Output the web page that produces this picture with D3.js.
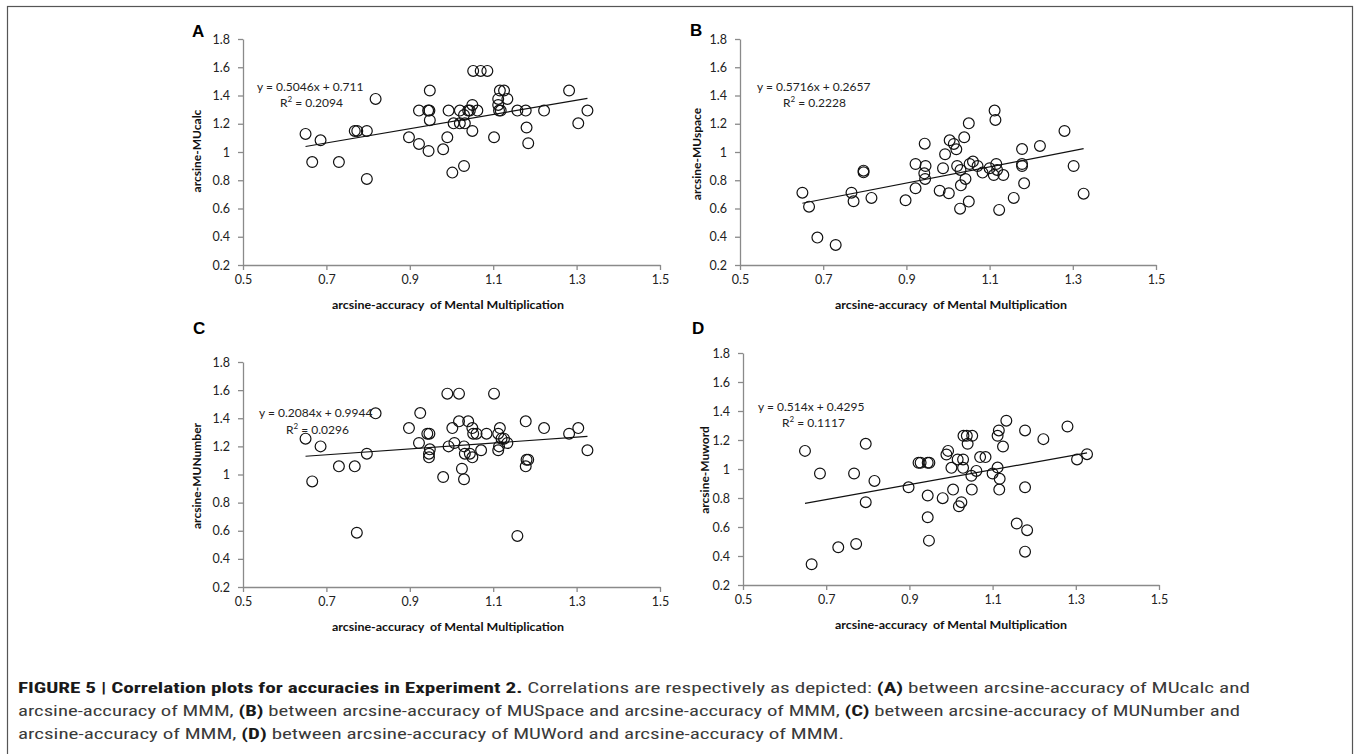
<!DOCTYPE html>
<html><head><meta charset="utf-8">
<script src="https://cdn.jsdelivr.net/npm/d3@7"></script>
<style>
html,body{margin:0;padding:0;background:#fff;}
svg{display:block;}
</style></head>
<body>
<svg id="chart" width="1357" height="754"></svg>
<script>
// ---------- DATA ----------
const xTicks = [0.5, 0.7, 0.9, 1.1, 1.3, 1.5];
const yTicks = [0.2, 0.4, 0.6, 0.8, 1.0, 1.2, 1.4, 1.6, 1.8];

const xA = [0.65,0.666,0.686,0.730,0.768,0.774,0.797,0.797,0.818,0.898,0.922,0.922,0.944,0.947,0.948,0.948,0.945,0.98,0.99,0.993,1.002,1.005,1.02,1.02,1.032,1.03,1.03,1.04,1.044,1.05,1.05,1.052,1.062,1.07,1.086,1.102,1.112,1.112,1.114,1.116,1.126,1.134,1.118,1.158,1.178,1.18,1.184,1.222,1.282,1.304,1.326];
const yA = [1.128,0.929,1.083,0.929,1.149,1.149,1.149,0.809,1.376,1.104,1.057,1.293,1.293,1.293,1.435,1.225,1.007,1.019,1.104,1.293,0.854,1.203,1.203,1.293,1.203,0.901,1.262,1.293,1.293,1.333,1.149,1.574,1.293,1.574,1.574,1.104,1.333,1.376,1.293,1.435,1.435,1.376,1.293,1.293,1.293,1.173,1.062,1.293,1.435,1.203,1.293];

const xB = [0.65,0.666,0.686,0.73,0.768,0.773,0.797,0.797,0.816,0.898,0.922,0.922,0.944,0.946,0.943,0.945,0.98,0.988,0.993,1.002,1.004,1.014,1.02,1.022,1.03,1.029,1.031,1.039,1.042,1.05,1.05,1.052,1.06,1.071,1.083,1.1,1.112,1.114,1.116,1.118,1.11,1.123,1.133,1.158,1.178,1.178,1.178,1.183,1.221,1.28,1.302,1.326];
const yB = [0.712,0.613,0.394,0.342,0.712,0.651,0.868,0.856,0.675,0.658,0.743,0.915,1.059,0.901,0.849,0.809,0.726,0.885,0.984,0.708,1.083,1.057,1.019,0.901,0.873,0.599,0.764,1.104,0.809,1.203,0.649,0.915,0.932,0.901,0.854,0.885,1.293,1.227,0.915,0.873,0.837,0.59,0.837,0.675,1.021,0.915,0.901,0.778,1.043,1.149,0.901,0.705];

const xC = [0.65,0.666,0.686,0.73,0.768,0.773,0.797,0.818,0.898,0.922,0.925,0.942,0.947,0.948,0.946,0.946,0.98,0.99,0.993,1.002,1.007,1.018,1.018,1.025,1.03,1.03,1.032,1.04,1.044,1.05,1.05,1.052,1.06,1.071,1.084,1.102,1.112,1.116,1.114,1.112,1.12,1.126,1.134,1.158,1.178,1.18,1.178,1.184,1.222,1.282,1.304,1.326];
const yC = [1.255,0.951,1.2,1.058,1.058,0.586,1.148,1.435,1.33,1.224,1.437,1.29,1.29,1.179,1.148,1.122,0.982,1.575,1.2,1.33,1.224,1.575,1.378,1.041,0.966,1.2,1.148,1.378,1.148,1.33,1.122,1.29,1.29,1.172,1.29,1.575,1.29,1.33,1.2,1.172,1.255,1.255,1.224,0.563,1.378,1.105,1.058,1.105,1.33,1.29,1.33,1.172];

const xD = [0.649,0.665,0.685,0.729,0.767,0.772,0.795,0.795,0.816,0.898,0.922,0.927,0.944,0.948,0.944,0.944,0.947,0.98,0.989,0.993,1.001,1.005,1.016,1.019,1.025,1.029,1.029,1.03,1.038,1.051,1.04,1.049,1.05,1.061,1.07,1.083,1.1,1.112,1.112,1.115,1.117,1.116,1.125,1.133,1.158,1.178,1.178,1.183,1.178,1.222,1.28,1.303,1.327];
const yD = [1.125,0.343,0.969,0.46,0.969,0.483,1.174,0.771,0.918,0.874,1.043,1.043,1.043,1.043,0.817,0.667,0.506,0.799,1.1,1.125,1.008,0.858,1.066,0.743,0.771,1.066,1.008,1.229,1.229,1.229,1.174,0.953,0.858,0.987,1.082,1.082,0.969,1.01,1.229,1.266,0.932,0.858,1.155,1.333,0.624,1.266,0.874,0.578,0.43,1.206,1.293,1.066,1.102];

const letters = ["A", "B", "C", "D"];
const yTitles = ["arcsine-MUcalc", "arcsine-MUspace", "arcsine-MUNumber", "arcsine-Muword"];
const xTitle = "arcsine-accuracy  of Mental Multiplication";
const slopes = [0.5046, 0.5716, 0.2084, 0.514];
const intercepts = [0.711, 0.2657, 0.9944, 0.4295];
const eqTexts = ["y = 0.5046x + 0.711", "y = 0.5716x + 0.2657", "y = 0.2084x + 0.9944", "y = 0.514x + 0.4295"];
const r2Texts = ["0.2094", "0.2228", "0.0296", "0.1117"];

// ---------- LAYOUT ----------
const panels = [
  {x0:243, x1:660, yTop:39,  yBot:265, letterX:192, letterY:37,  titleX:197, titleY:151, xtX:448, eqX:257, eqY:91,  rX:280, rY:107},
  {x0:740, x1:1156,yTop:39,  yBot:265, letterX:690, letterY:36,  titleX:697, titleY:154, xtX:951, eqX:757, eqY:91,  rX:783, rY:107},
  {x0:243, x1:660, yTop:362, yBot:587, letterX:193, letterY:334, titleX:197, titleY:476, xtX:448, eqX:259, eqY:417, rX:286, rY:434},
  {x0:743, x1:1159,yTop:353, yBot:585, letterX:692, letterY:334, titleX:705, titleY:470, xtX:951, eqX:758, eqY:411, rX:782, rY:427}
];
const xs = [xA, xB, xC, xD];
const ys = [yA, yB, yC, yD];

const svg = d3.select("#chart");
// border
svg.append("rect").attr("x", 7.5).attr("y", 6.5).attr("width", 1345).attr("height", 760)
  .attr("fill", "none").attr("stroke", "#555").attr("stroke-width", 1.2);

const tickFont = "Lato, 'Open Sans', sans-serif";
const axisColor = "#8a8a8a";

panels.forEach((p, i) => {
  const x = d3.scaleLinear().domain([0.5, 1.5]).range([p.x0, p.x1]);
  const y = d3.scaleLinear().domain([0.2, 1.8]).range([p.yBot, p.yTop]);
  const g = svg.append("g");

  const xAxis = g.append("g").attr("transform", `translate(0,${p.yBot})`)
    .call(d3.axisBottom(x).tickValues(xTicks).tickSize(5).tickSizeOuter(0).tickFormat(d3.format(".1f")));
  const yAxis = g.append("g").attr("transform", `translate(${p.x0},0)`)
    .call(d3.axisLeft(y).tickValues(yTicks).tickSize(5).tickSizeOuter(0).tickFormat(d => d === 1 ? "1" : d.toFixed(1)));
  [xAxis, yAxis].forEach(a => {
    a.select(".domain").attr("stroke", axisColor).attr("stroke-width", 1.3);
    a.selectAll(".tick line").attr("stroke", axisColor).attr("stroke-width", 1.3);
    a.selectAll(".tick text").attr("fill", "#222").style("font-family", tickFont).style("font-size", "12.5px");
  });
  xAxis.selectAll(".tick text").attr("dy", "1.05em").attr("y", 6);
  yAxis.selectAll(".tick text").attr("x", -13);

  // regression line
  const xmin = d3.min(xs[i]), xmax = d3.max(xs[i]);
  g.append("line")
    .attr("x1", x(xmin)).attr("y1", y(slopes[i] * xmin + intercepts[i]))
    .attr("x2", x(xmax)).attr("y2", y(slopes[i] * xmax + intercepts[i]))
    .attr("stroke", "#111").attr("stroke-width", 1.2);

  // points
  g.selectAll("circle").data(xs[i].map((v, k) => [v, ys[i][k]])).join("circle")
    .attr("cx", d => x(d[0])).attr("cy", d => y(d[1])).attr("r", 5.4)
    .attr("fill", "none").attr("stroke", "#111").attr("stroke-width", 1.2);

  // equation texts
  g.append("text").attr("x", p.eqX).attr("y", p.eqY).text(eqTexts[i])
    .style("font-family", tickFont).style("font-size", "12px").attr("fill", "#222");
  const rt = g.append("text").attr("x", p.rX).attr("y", p.rY)
    .style("font-family", tickFont).style("font-size", "12px").attr("fill", "#222");
  rt.append("tspan").text("R");
  rt.append("tspan").text("2").attr("dy", -5).style("font-size", "8px");
  rt.append("tspan").text(" = " + r2Texts[i]).attr("dy", 5);

  // letter
  g.append("text").attr("x", p.letterX).attr("y", p.letterY).text(letters[i])
    .style("font-family", "'Liberation Sans', Arial, sans-serif").style("font-weight", "bold").style("font-size", "17px");

  // titles
  g.append("text").attr("transform", `translate(${p.titleX + 4},${p.titleY}) rotate(-90)`)
    .attr("text-anchor", "middle").text(yTitles[i])
    .style("font-family", tickFont).style("font-weight", "bold").style("font-size", "12px").attr("fill", "#111");
  g.append("text").attr("x", p.xtX).attr("y", p.yBot + 44).attr("text-anchor", "middle")
    .text(xTitle).attr("textLength", 232).attr("lengthAdjust", "spacingAndGlyphs")
    .style("font-family", tickFont).style("font-weight", "bold").style("font-size", "12px").attr("fill", "#111")
    .style("white-space", "pre");
});

// ---------- CAPTION ----------
const capFont = "'Liberation Sans Narrow', 'Roboto Condensed', 'Liberation Sans', Arial, sans-serif";
const capLines = [
  {y: 693, w: 1232, parts: [["FIGURE 5 | Correlation plots for accuracies in Experiment 2.", true], [" Correlations are respectively as depicted: ", false], ["(A)", true], [" between arcsine-accuracy of MUcalc and", false]]},
  {y: 716, w: 1222, parts: [["arcsine-accuracy of MMM, ", false], ["(B)", true], [" between arcsine-accuracy of MUSpace and arcsine-accuracy of MMM, ", false], ["(C)", true], [" between arcsine-accuracy of MUNumber and", false]]},
  {y: 739, w: 826, parts: [["arcsine-accuracy of MMM, ", false], ["(D)", true], [" between arcsine-accuracy of MUWord and arcsine-accuracy of MMM.", false]]}
];
capLines.forEach(l => {
  const t = svg.append("text").attr("x", 18).attr("y", l.y)
    .attr("textLength", l.w).attr("lengthAdjust", "spacingAndGlyphs")
    .style("font-family", capFont).style("font-size", "15.5px").style("white-space", "pre");
  l.parts.forEach(pt => t.append("tspan").text(pt[0])
    .style("font-weight", pt[1] ? "bold" : "normal").attr("fill", pt[1] ? "#1a1a1a" : "#3a3a3a"));
});
</script>
</body></html>
